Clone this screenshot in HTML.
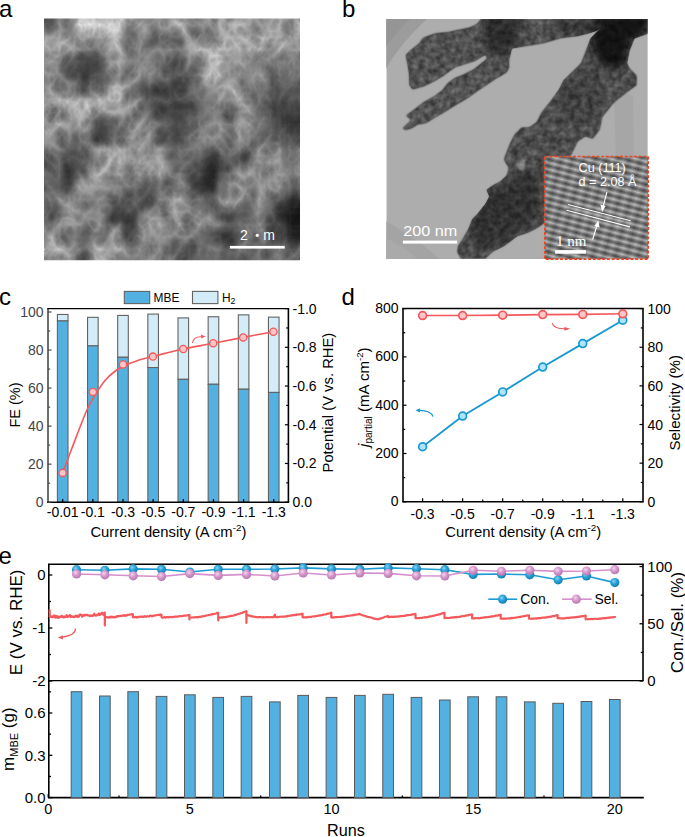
<!DOCTYPE html>
<html><head><meta charset="utf-8"><style>
html,body{margin:0;padding:0;background:#fff;width:685px;height:837px;overflow:hidden}
svg{display:block}
text{font-family:"Liberation Sans", sans-serif}
text.serif{font-family:"Liberation Serif", serif}
</style></head><body><svg width="685" height="837" viewBox="0 0 685 837" font-family='"Liberation Sans", sans-serif'><defs><filter id="semblur" x="-10%" y="-10%" width="120%" height="120%"><feGaussianBlur stdDeviation="4"/></filter><clipPath id="semclip"><rect x="44" y="18.5" width="256" height="241.8"/></clipPath></defs><defs><filter id="semtex" x="0" y="0" width="100%" height="100%" color-interpolation-filters="sRGB"><feTurbulence type="turbulence" baseFrequency="0.05 0.04" numOctaves="3" seed="11" result="n"/><feColorMatrix in="n" type="matrix" values="-1 0 0 0 1  -1 0 0 0 1  -1 0 0 0 1  0 0 0 0 1" result="ng"/><feComposite in="SourceGraphic" in2="ng" operator="arithmetic" k1="0.75" k2="0.5" k3="0" k4="0" result="o"/><feComposite in="o" in2="SourceGraphic" operator="in"/></filter></defs><g clip-path="url(#semclip)"><g filter="url(#semtex)"><g filter="url(#semblur)"><rect x="32.0" y="6.5" width="28.6" height="28.7" fill="rgb(95,95,95)"/><rect x="60.0" y="6.5" width="16.6" height="28.7" fill="rgb(140,140,140)"/><rect x="76.0" y="6.5" width="16.6" height="28.7" fill="rgb(191,191,191)"/><rect x="92.0" y="6.5" width="16.6" height="28.7" fill="rgb(179,179,179)"/><rect x="32.0" y="34.6" width="28.6" height="16.7" fill="rgb(146,146,146)"/><rect x="60.0" y="34.6" width="16.6" height="16.7" fill="rgb(151,151,151)"/><rect x="76.0" y="34.6" width="16.6" height="16.7" fill="rgb(129,129,129)"/><rect x="92.0" y="34.6" width="16.6" height="16.7" fill="rgb(118,118,118)"/><rect x="32.0" y="50.8" width="28.6" height="16.7" fill="rgb(129,129,129)"/><rect x="60.0" y="50.8" width="16.6" height="16.7" fill="rgb(112,112,112)"/><rect x="76.0" y="50.8" width="16.6" height="16.7" fill="rgb(62,62,62)"/><rect x="92.0" y="50.8" width="16.6" height="16.7" fill="rgb(79,79,79)"/><rect x="32.0" y="66.9" width="28.6" height="16.7" fill="rgb(123,123,123)"/><rect x="60.0" y="66.9" width="16.6" height="16.7" fill="rgb(90,90,90)"/><rect x="76.0" y="66.9" width="16.6" height="16.7" fill="rgb(56,56,56)"/><rect x="92.0" y="66.9" width="16.6" height="16.7" fill="rgb(73,73,73)"/><rect x="108.0" y="6.5" width="16.6" height="28.7" fill="rgb(179,179,179)"/><rect x="124.0" y="6.5" width="16.6" height="28.7" fill="rgb(129,129,129)"/><rect x="140.0" y="6.5" width="16.6" height="28.7" fill="rgb(140,140,140)"/><rect x="156.0" y="6.5" width="16.6" height="28.7" fill="rgb(118,118,118)"/><rect x="108.0" y="34.6" width="16.6" height="16.7" fill="rgb(163,163,163)"/><rect x="124.0" y="34.6" width="16.6" height="16.7" fill="rgb(135,135,135)"/><rect x="140.0" y="34.6" width="16.6" height="16.7" fill="rgb(101,101,101)"/><rect x="156.0" y="34.6" width="16.6" height="16.7" fill="rgb(107,107,107)"/><rect x="108.0" y="50.8" width="16.6" height="16.7" fill="rgb(151,151,151)"/><rect x="124.0" y="50.8" width="16.6" height="16.7" fill="rgb(107,107,107)"/><rect x="140.0" y="50.8" width="16.6" height="16.7" fill="rgb(118,118,118)"/><rect x="156.0" y="50.8" width="16.6" height="16.7" fill="rgb(129,129,129)"/><rect x="108.0" y="66.9" width="16.6" height="16.7" fill="rgb(118,118,118)"/><rect x="124.0" y="66.9" width="16.6" height="16.7" fill="rgb(135,135,135)"/><rect x="140.0" y="66.9" width="16.6" height="16.7" fill="rgb(118,118,118)"/><rect x="156.0" y="66.9" width="16.6" height="16.7" fill="rgb(95,95,95)"/><rect x="172.0" y="6.5" width="16.6" height="28.7" fill="rgb(163,163,163)"/><rect x="188.0" y="6.5" width="16.6" height="28.7" fill="rgb(118,118,118)"/><rect x="204.0" y="6.5" width="16.6" height="28.7" fill="rgb(140,140,140)"/><rect x="220.0" y="6.5" width="16.6" height="28.7" fill="rgb(157,157,157)"/><rect x="172.0" y="34.6" width="16.6" height="16.7" fill="rgb(101,101,101)"/><rect x="188.0" y="34.6" width="16.6" height="16.7" fill="rgb(163,163,163)"/><rect x="204.0" y="34.6" width="16.6" height="16.7" fill="rgb(140,140,140)"/><rect x="220.0" y="34.6" width="16.6" height="16.7" fill="rgb(163,163,163)"/><rect x="172.0" y="50.8" width="16.6" height="16.7" fill="rgb(107,107,107)"/><rect x="188.0" y="50.8" width="16.6" height="16.7" fill="rgb(129,129,129)"/><rect x="204.0" y="50.8" width="16.6" height="16.7" fill="rgb(179,179,179)"/><rect x="220.0" y="50.8" width="16.6" height="16.7" fill="rgb(129,129,129)"/><rect x="172.0" y="66.9" width="16.6" height="16.7" fill="rgb(79,79,79)"/><rect x="188.0" y="66.9" width="16.6" height="16.7" fill="rgb(90,90,90)"/><rect x="204.0" y="66.9" width="16.6" height="16.7" fill="rgb(179,179,179)"/><rect x="220.0" y="66.9" width="16.6" height="16.7" fill="rgb(123,123,123)"/><rect x="236.0" y="6.5" width="16.6" height="28.7" fill="rgb(151,151,151)"/><rect x="252.0" y="6.5" width="16.6" height="28.7" fill="rgb(129,129,129)"/><rect x="268.0" y="6.5" width="16.6" height="28.7" fill="rgb(140,140,140)"/><rect x="284.0" y="6.5" width="28.6" height="28.7" fill="rgb(151,151,151)"/><rect x="236.0" y="34.6" width="16.6" height="16.7" fill="rgb(157,157,157)"/><rect x="252.0" y="34.6" width="16.6" height="16.7" fill="rgb(163,163,163)"/><rect x="268.0" y="34.6" width="16.6" height="16.7" fill="rgb(168,168,168)"/><rect x="284.0" y="34.6" width="28.6" height="16.7" fill="rgb(140,140,140)"/><rect x="236.0" y="50.8" width="16.6" height="16.7" fill="rgb(140,140,140)"/><rect x="252.0" y="50.8" width="16.6" height="16.7" fill="rgb(118,118,118)"/><rect x="268.0" y="50.8" width="16.6" height="16.7" fill="rgb(118,118,118)"/><rect x="284.0" y="50.8" width="28.6" height="16.7" fill="rgb(112,112,112)"/><rect x="236.0" y="66.9" width="16.6" height="16.7" fill="rgb(118,118,118)"/><rect x="252.0" y="66.9" width="16.6" height="16.7" fill="rgb(129,129,129)"/><rect x="268.0" y="66.9" width="16.6" height="16.7" fill="rgb(95,95,95)"/><rect x="284.0" y="66.9" width="28.6" height="16.7" fill="rgb(101,101,101)"/><rect x="32.0" y="83.0" width="28.6" height="16.6" fill="rgb(135,135,135)"/><rect x="60.0" y="83.0" width="16.6" height="16.6" fill="rgb(129,129,129)"/><rect x="76.0" y="83.0" width="16.6" height="16.6" fill="rgb(79,79,79)"/><rect x="92.0" y="83.0" width="16.6" height="16.6" fill="rgb(118,118,118)"/><rect x="32.0" y="99.0" width="28.6" height="16.6" fill="rgb(163,163,163)"/><rect x="60.0" y="99.0" width="16.6" height="16.6" fill="rgb(168,168,168)"/><rect x="76.0" y="99.0" width="16.6" height="16.6" fill="rgb(174,174,174)"/><rect x="92.0" y="99.0" width="16.6" height="16.6" fill="rgb(179,179,179)"/><rect x="32.0" y="115.0" width="28.6" height="16.6" fill="rgb(157,157,157)"/><rect x="60.0" y="115.0" width="16.6" height="16.6" fill="rgb(140,140,140)"/><rect x="76.0" y="115.0" width="16.6" height="16.6" fill="rgb(140,140,140)"/><rect x="92.0" y="115.0" width="16.6" height="16.6" fill="rgb(56,56,56)"/><rect x="32.0" y="131.0" width="28.6" height="16.6" fill="rgb(129,129,129)"/><rect x="60.0" y="131.0" width="16.6" height="16.6" fill="rgb(107,107,107)"/><rect x="76.0" y="131.0" width="16.6" height="16.6" fill="rgb(107,107,107)"/><rect x="92.0" y="131.0" width="16.6" height="16.6" fill="rgb(73,73,73)"/><rect x="108.0" y="83.0" width="16.6" height="16.6" fill="rgb(163,163,163)"/><rect x="124.0" y="83.0" width="16.6" height="16.6" fill="rgb(118,118,118)"/><rect x="140.0" y="83.0" width="16.6" height="16.6" fill="rgb(62,62,62)"/><rect x="156.0" y="83.0" width="16.6" height="16.6" fill="rgb(73,73,73)"/><rect x="108.0" y="99.0" width="16.6" height="16.6" fill="rgb(157,157,157)"/><rect x="124.0" y="99.0" width="16.6" height="16.6" fill="rgb(140,140,140)"/><rect x="140.0" y="99.0" width="16.6" height="16.6" fill="rgb(90,90,90)"/><rect x="156.0" y="99.0" width="16.6" height="16.6" fill="rgb(73,73,73)"/><rect x="108.0" y="115.0" width="16.6" height="16.6" fill="rgb(95,95,95)"/><rect x="124.0" y="115.0" width="16.6" height="16.6" fill="rgb(140,140,140)"/><rect x="140.0" y="115.0" width="16.6" height="16.6" fill="rgb(129,129,129)"/><rect x="156.0" y="115.0" width="16.6" height="16.6" fill="rgb(84,84,84)"/><rect x="108.0" y="131.0" width="16.6" height="16.6" fill="rgb(95,95,95)"/><rect x="124.0" y="131.0" width="16.6" height="16.6" fill="rgb(135,135,135)"/><rect x="140.0" y="131.0" width="16.6" height="16.6" fill="rgb(140,140,140)"/><rect x="156.0" y="131.0" width="16.6" height="16.6" fill="rgb(79,79,79)"/><rect x="172.0" y="83.0" width="16.6" height="16.6" fill="rgb(84,84,84)"/><rect x="188.0" y="83.0" width="16.6" height="16.6" fill="rgb(95,95,95)"/><rect x="204.0" y="83.0" width="16.6" height="16.6" fill="rgb(118,118,118)"/><rect x="220.0" y="83.0" width="16.6" height="16.6" fill="rgb(163,163,163)"/><rect x="172.0" y="99.0" width="16.6" height="16.6" fill="rgb(56,56,56)"/><rect x="188.0" y="99.0" width="16.6" height="16.6" fill="rgb(84,84,84)"/><rect x="204.0" y="99.0" width="16.6" height="16.6" fill="rgb(107,107,107)"/><rect x="220.0" y="99.0" width="16.6" height="16.6" fill="rgb(140,140,140)"/><rect x="172.0" y="115.0" width="16.6" height="16.6" fill="rgb(67,67,67)"/><rect x="188.0" y="115.0" width="16.6" height="16.6" fill="rgb(90,90,90)"/><rect x="204.0" y="115.0" width="16.6" height="16.6" fill="rgb(123,123,123)"/><rect x="220.0" y="115.0" width="16.6" height="16.6" fill="rgb(129,129,129)"/><rect x="172.0" y="131.0" width="16.6" height="16.6" fill="rgb(62,62,62)"/><rect x="188.0" y="131.0" width="16.6" height="16.6" fill="rgb(129,129,129)"/><rect x="204.0" y="131.0" width="16.6" height="16.6" fill="rgb(118,118,118)"/><rect x="220.0" y="131.0" width="16.6" height="16.6" fill="rgb(123,123,123)"/><rect x="236.0" y="83.0" width="16.6" height="16.6" fill="rgb(140,140,140)"/><rect x="252.0" y="83.0" width="16.6" height="16.6" fill="rgb(107,107,107)"/><rect x="268.0" y="83.0" width="16.6" height="16.6" fill="rgb(79,79,79)"/><rect x="284.0" y="83.0" width="28.6" height="16.6" fill="rgb(84,84,84)"/><rect x="236.0" y="99.0" width="16.6" height="16.6" fill="rgb(146,146,146)"/><rect x="252.0" y="99.0" width="16.6" height="16.6" fill="rgb(90,90,90)"/><rect x="268.0" y="99.0" width="16.6" height="16.6" fill="rgb(62,62,62)"/><rect x="284.0" y="99.0" width="28.6" height="16.6" fill="rgb(62,62,62)"/><rect x="236.0" y="115.0" width="16.6" height="16.6" fill="rgb(135,135,135)"/><rect x="252.0" y="115.0" width="16.6" height="16.6" fill="rgb(107,107,107)"/><rect x="268.0" y="115.0" width="16.6" height="16.6" fill="rgb(67,67,67)"/><rect x="284.0" y="115.0" width="28.6" height="16.6" fill="rgb(45,45,45)"/><rect x="236.0" y="131.0" width="16.6" height="16.6" fill="rgb(140,140,140)"/><rect x="252.0" y="131.0" width="16.6" height="16.6" fill="rgb(107,107,107)"/><rect x="268.0" y="131.0" width="16.6" height="16.6" fill="rgb(84,84,84)"/><rect x="284.0" y="131.0" width="28.6" height="16.6" fill="rgb(73,73,73)"/><rect x="32.0" y="147.0" width="28.6" height="16.6" fill="rgb(118,118,118)"/><rect x="60.0" y="147.0" width="16.6" height="16.6" fill="rgb(73,73,73)"/><rect x="76.0" y="147.0" width="16.6" height="16.6" fill="rgb(79,79,79)"/><rect x="92.0" y="147.0" width="16.6" height="16.6" fill="rgb(151,151,151)"/><rect x="32.0" y="163.0" width="28.6" height="16.6" fill="rgb(101,101,101)"/><rect x="60.0" y="163.0" width="16.6" height="16.6" fill="rgb(56,56,56)"/><rect x="76.0" y="163.0" width="16.6" height="16.6" fill="rgb(84,84,84)"/><rect x="92.0" y="163.0" width="16.6" height="16.6" fill="rgb(157,157,157)"/><rect x="32.0" y="179.0" width="28.6" height="16.6" fill="rgb(90,90,90)"/><rect x="60.0" y="179.0" width="16.6" height="16.6" fill="rgb(73,73,73)"/><rect x="76.0" y="179.0" width="16.6" height="16.6" fill="rgb(146,146,146)"/><rect x="92.0" y="179.0" width="16.6" height="16.6" fill="rgb(129,129,129)"/><rect x="32.0" y="195.0" width="28.6" height="16.6" fill="rgb(118,118,118)"/><rect x="60.0" y="195.0" width="16.6" height="16.6" fill="rgb(135,135,135)"/><rect x="76.0" y="195.0" width="16.6" height="16.6" fill="rgb(107,107,107)"/><rect x="92.0" y="195.0" width="16.6" height="16.6" fill="rgb(118,118,118)"/><rect x="108.0" y="147.0" width="16.6" height="16.6" fill="rgb(163,163,163)"/><rect x="124.0" y="147.0" width="16.6" height="16.6" fill="rgb(129,129,129)"/><rect x="140.0" y="147.0" width="16.6" height="16.6" fill="rgb(146,146,146)"/><rect x="156.0" y="147.0" width="16.6" height="16.6" fill="rgb(140,140,140)"/><rect x="108.0" y="163.0" width="16.6" height="16.6" fill="rgb(140,140,140)"/><rect x="124.0" y="163.0" width="16.6" height="16.6" fill="rgb(129,129,129)"/><rect x="140.0" y="163.0" width="16.6" height="16.6" fill="rgb(135,135,135)"/><rect x="156.0" y="163.0" width="16.6" height="16.6" fill="rgb(146,146,146)"/><rect x="108.0" y="179.0" width="16.6" height="16.6" fill="rgb(123,123,123)"/><rect x="124.0" y="179.0" width="16.6" height="16.6" fill="rgb(101,101,101)"/><rect x="140.0" y="179.0" width="16.6" height="16.6" fill="rgb(79,79,79)"/><rect x="156.0" y="179.0" width="16.6" height="16.6" fill="rgb(107,107,107)"/><rect x="108.0" y="195.0" width="16.6" height="16.6" fill="rgb(73,73,73)"/><rect x="124.0" y="195.0" width="16.6" height="16.6" fill="rgb(90,90,90)"/><rect x="140.0" y="195.0" width="16.6" height="16.6" fill="rgb(67,67,67)"/><rect x="156.0" y="195.0" width="16.6" height="16.6" fill="rgb(118,118,118)"/><rect x="172.0" y="147.0" width="16.6" height="16.6" fill="rgb(101,101,101)"/><rect x="188.0" y="147.0" width="16.6" height="16.6" fill="rgb(95,95,95)"/><rect x="204.0" y="147.0" width="16.6" height="16.6" fill="rgb(56,56,56)"/><rect x="220.0" y="147.0" width="16.6" height="16.6" fill="rgb(107,107,107)"/><rect x="172.0" y="163.0" width="16.6" height="16.6" fill="rgb(107,107,107)"/><rect x="188.0" y="163.0" width="16.6" height="16.6" fill="rgb(73,73,73)"/><rect x="204.0" y="163.0" width="16.6" height="16.6" fill="rgb(28,28,28)"/><rect x="220.0" y="163.0" width="16.6" height="16.6" fill="rgb(84,84,84)"/><rect x="172.0" y="179.0" width="16.6" height="16.6" fill="rgb(118,118,118)"/><rect x="188.0" y="179.0" width="16.6" height="16.6" fill="rgb(56,56,56)"/><rect x="204.0" y="179.0" width="16.6" height="16.6" fill="rgb(39,39,39)"/><rect x="220.0" y="179.0" width="16.6" height="16.6" fill="rgb(123,123,123)"/><rect x="172.0" y="195.0" width="16.6" height="16.6" fill="rgb(151,151,151)"/><rect x="188.0" y="195.0" width="16.6" height="16.6" fill="rgb(107,107,107)"/><rect x="204.0" y="195.0" width="16.6" height="16.6" fill="rgb(101,101,101)"/><rect x="220.0" y="195.0" width="16.6" height="16.6" fill="rgb(140,140,140)"/><rect x="236.0" y="147.0" width="16.6" height="16.6" fill="rgb(79,79,79)"/><rect x="252.0" y="147.0" width="16.6" height="16.6" fill="rgb(129,129,129)"/><rect x="268.0" y="147.0" width="16.6" height="16.6" fill="rgb(135,135,135)"/><rect x="284.0" y="147.0" width="28.6" height="16.6" fill="rgb(118,118,118)"/><rect x="236.0" y="163.0" width="16.6" height="16.6" fill="rgb(140,140,140)"/><rect x="252.0" y="163.0" width="16.6" height="16.6" fill="rgb(118,118,118)"/><rect x="268.0" y="163.0" width="16.6" height="16.6" fill="rgb(129,129,129)"/><rect x="284.0" y="163.0" width="28.6" height="16.6" fill="rgb(123,123,123)"/><rect x="236.0" y="179.0" width="16.6" height="16.6" fill="rgb(129,129,129)"/><rect x="252.0" y="179.0" width="16.6" height="16.6" fill="rgb(146,146,146)"/><rect x="268.0" y="179.0" width="16.6" height="16.6" fill="rgb(129,129,129)"/><rect x="284.0" y="179.0" width="28.6" height="16.6" fill="rgb(90,90,90)"/><rect x="236.0" y="195.0" width="16.6" height="16.6" fill="rgb(129,129,129)"/><rect x="252.0" y="195.0" width="16.6" height="16.6" fill="rgb(129,129,129)"/><rect x="268.0" y="195.0" width="16.6" height="16.6" fill="rgb(73,73,73)"/><rect x="284.0" y="195.0" width="28.6" height="16.6" fill="rgb(34,34,34)"/><rect x="32.0" y="211.0" width="28.6" height="17.0" fill="rgb(101,101,101)"/><rect x="60.0" y="211.0" width="16.6" height="17.0" fill="rgb(140,140,140)"/><rect x="76.0" y="211.0" width="16.6" height="17.0" fill="rgb(129,129,129)"/><rect x="92.0" y="211.0" width="16.6" height="17.0" fill="rgb(129,129,129)"/><rect x="32.0" y="227.4" width="28.6" height="17.0" fill="rgb(151,151,151)"/><rect x="60.0" y="227.4" width="16.6" height="17.0" fill="rgb(123,123,123)"/><rect x="76.0" y="227.4" width="16.6" height="17.0" fill="rgb(79,79,79)"/><rect x="92.0" y="227.4" width="16.6" height="17.0" fill="rgb(118,118,118)"/><rect x="32.0" y="243.9" width="28.6" height="29.0" fill="rgb(174,174,174)"/><rect x="60.0" y="243.9" width="16.6" height="29.0" fill="rgb(140,140,140)"/><rect x="76.0" y="243.9" width="16.6" height="29.0" fill="rgb(95,95,95)"/><rect x="92.0" y="243.9" width="16.6" height="29.0" fill="rgb(163,163,163)"/><rect x="108.0" y="211.0" width="16.6" height="17.0" fill="rgb(62,62,62)"/><rect x="124.0" y="211.0" width="16.6" height="17.0" fill="rgb(56,56,56)"/><rect x="140.0" y="211.0" width="16.6" height="17.0" fill="rgb(135,135,135)"/><rect x="156.0" y="211.0" width="16.6" height="17.0" fill="rgb(151,151,151)"/><rect x="108.0" y="227.4" width="16.6" height="17.0" fill="rgb(151,151,151)"/><rect x="124.0" y="227.4" width="16.6" height="17.0" fill="rgb(101,101,101)"/><rect x="140.0" y="227.4" width="16.6" height="17.0" fill="rgb(129,129,129)"/><rect x="156.0" y="227.4" width="16.6" height="17.0" fill="rgb(123,123,123)"/><rect x="108.0" y="243.9" width="16.6" height="29.0" fill="rgb(151,151,151)"/><rect x="124.0" y="243.9" width="16.6" height="29.0" fill="rgb(112,112,112)"/><rect x="140.0" y="243.9" width="16.6" height="29.0" fill="rgb(123,123,123)"/><rect x="156.0" y="243.9" width="16.6" height="29.0" fill="rgb(118,118,118)"/><rect x="172.0" y="211.0" width="16.6" height="17.0" fill="rgb(140,140,140)"/><rect x="188.0" y="211.0" width="16.6" height="17.0" fill="rgb(135,135,135)"/><rect x="204.0" y="211.0" width="16.6" height="17.0" fill="rgb(129,129,129)"/><rect x="220.0" y="211.0" width="16.6" height="17.0" fill="rgb(84,84,84)"/><rect x="172.0" y="227.4" width="16.6" height="17.0" fill="rgb(118,118,118)"/><rect x="188.0" y="227.4" width="16.6" height="17.0" fill="rgb(112,112,112)"/><rect x="204.0" y="227.4" width="16.6" height="17.0" fill="rgb(107,107,107)"/><rect x="220.0" y="227.4" width="16.6" height="17.0" fill="rgb(62,62,62)"/><rect x="172.0" y="243.9" width="16.6" height="29.0" fill="rgb(84,84,84)"/><rect x="188.0" y="243.9" width="16.6" height="29.0" fill="rgb(90,90,90)"/><rect x="204.0" y="243.9" width="16.6" height="29.0" fill="rgb(107,107,107)"/><rect x="220.0" y="243.9" width="16.6" height="29.0" fill="rgb(84,84,84)"/><rect x="236.0" y="211.0" width="16.6" height="17.0" fill="rgb(95,95,95)"/><rect x="252.0" y="211.0" width="16.6" height="17.0" fill="rgb(118,118,118)"/><rect x="268.0" y="211.0" width="16.6" height="17.0" fill="rgb(62,62,62)"/><rect x="284.0" y="211.0" width="28.6" height="17.0" fill="rgb(23,23,23)"/><rect x="236.0" y="227.4" width="16.6" height="17.0" fill="rgb(107,107,107)"/><rect x="252.0" y="227.4" width="16.6" height="17.0" fill="rgb(118,118,118)"/><rect x="268.0" y="227.4" width="16.6" height="17.0" fill="rgb(79,79,79)"/><rect x="284.0" y="227.4" width="28.6" height="17.0" fill="rgb(34,34,34)"/><rect x="236.0" y="243.9" width="16.6" height="29.0" fill="rgb(107,107,107)"/><rect x="252.0" y="243.9" width="16.6" height="29.0" fill="rgb(101,101,101)"/><rect x="268.0" y="243.9" width="16.6" height="29.0" fill="rgb(107,107,107)"/><rect x="284.0" y="243.9" width="28.6" height="29.0" fill="rgb(95,95,95)"/></g></g></g><rect x="229.9" y="245.9" width="54.8" height="2.7" fill="#fff"/><text x="240" y="240.2" font-size="14" fill="#fff">2</text><circle cx="257.3" cy="235.3" r="1.6" fill="#fff"/><text x="263.2" y="240.2" font-size="14" fill="#fff">m</text><defs><clipPath id="temclip"><rect x="386.3" y="19" width="261.49999999999994" height="240"/></clipPath><filter id="temblur" x="-5%" y="-5%" width="110%" height="110%"><feGaussianBlur stdDeviation="1.2"/></filter><filter id="temblur3" x="-20%" y="-20%" width="140%" height="140%"><feGaussianBlur stdDeviation="4"/></filter></defs><defs><filter id="rodtex" x="0" y="0" width="100%" height="100%" color-interpolation-filters="sRGB"><feTurbulence type="fractalNoise" baseFrequency="0.16" numOctaves="2" seed="5" result="n"/><feColorMatrix in="n" type="matrix" values="1 0 0 0 0  1 0 0 0 0  1 0 0 0 0  0 0 0 0 1" result="ng"/><feComposite in="SourceGraphic" in2="ng" operator="arithmetic" k1="1.0" k2="0.38" k3="0" k4="0" result="o"/><feComposite in="o" in2="SourceGraphic" operator="in"/></filter></defs><g clip-path="url(#temclip)"><rect x="386.3" y="19" width="261.49999999999994" height="240" fill="#adadad"/><path d="M380,19 L427,19 C412,33 398,48 387,67 L380,80 Z" fill="#9c9c9c"/><path d="M380,19 L410,19 C402,27 394,36 387,45 L380,52 Z" fill="#959595"/><path d="M380,218 L386,221 C405,232 425,246 440,259 L380,259 Z" fill="#a4a4a4"/><path d="M380,235 L386,238 C400,245 410,251 417,259 L380,259 Z" fill="#aaaaaa"/><path d="M614,95 C620,92 628,92 633,96 L634,160 L616,160 Z" fill="#a6a6a6"/><g filter="url(#rodtex)"><g filter="url(#temblur)"><path d="M405.3,55.0 L410.5,49.8 L419.3,42.8 L422.8,37.5 L435.0,33.1 L449.1,31.4 L457.8,29.6 L470.1,27.0 L477.1,23.5 L480.6,19.0 L500.0,19.0 L505.0,40.0 L495.0,52.0 L485.8,55.0 L475.3,61.2 L464.8,64.7 L456.1,67.3 L450.8,70.8 L443.8,76.1 L435.0,81.3 L424.5,86.6 L412.3,90.1 L408.8,84.8 L408.8,74.3 L407.0,63.8 Z" fill="#5c5c5c"/><path d="M405.3,115.5 L414.0,109.3 L422.8,102.3 L435.0,95.3 L442.0,90.1 L447.3,83.1 L454.3,77.8 L463.1,74.3 L473.6,69.1 L482.3,62.0 L487.6,57.7 L494.6,55.0 L505.1,62.0 L509.5,67.3 L506.9,72.6 L498.1,77.8 L487.6,84.8 L477.1,91.8 L470.1,97.1 L461.3,102.3 L452.6,107.6 L443.8,112.9 L435.0,118.1 L426.3,123.4 L417.5,125.1 L412.3,128.6 L405.3,130.4 L401.8,128.6 L407.0,123.4 L410.5,119.9 Z" fill="#5e5e5e"/><path d="M477.1,23.5 L480.6,19.0 L600.2,19.0 L600.2,28.8 L595.3,31.3 L587.9,33.7 L578.1,36.2 L560.9,38.6 L543.8,43.5 L529.1,46.0 L511.9,48.4 L509.4,60.0 L509.5,67.3 L506.9,72.6 L498.1,77.8 L490.0,70.0 L485.8,55.0 Z" fill="#5a5a5a"/><path d="M600.2,19.0 L648.0,19.0 L648.0,33.7 L634.5,38.6 L629.6,50.9 L627.2,63.2 L629.6,68.1 L637.0,75.4 L637.0,85.2 L627.2,92.6 L617.4,99.9 L612.5,104.8 L602.6,117.1 L600.2,129.4 L592.8,139.2 L585.5,136.7 L578.1,141.6 L573.2,151.5 L570.8,156.5 L545.0,156.5 L545.0,223.1 L536.1,228.9 L528.5,232.7 L517.0,236.5 L504.6,246.1 L493.1,251.8 L485.4,259.0 L460.6,259.0 L456.8,251.8 L457.7,246.1 L462.5,238.4 L468.2,228.9 L472.1,219.3 L477.8,213.6 L485.4,204.0 L489.3,196.4 L486.4,189.7 L493.1,184.9 L500.7,181.1 L506.5,175.3 L508.4,167.7 L503.6,160.0 L504.5,156.4 L509.4,144.1 L514.3,134.3 L521.7,126.9 L529.1,126.9 L536.4,122.0 L541.3,112.2 L551.1,99.9 L558.5,90.1 L563.4,80.3 L573.2,70.5 L580.6,63.2 L585.5,50.9 L590.4,38.6 L600.2,28.8 Z" fill="#585858"/><path d="M518,162 C522,158 528,160 528,166 C527,171 520,172 518,168 Z" fill="#8a8a8a"/></g><defs><clipPath id="rodsclip"><path d="M405.3,55.0 L410.5,49.8 L419.3,42.8 L422.8,37.5 L435.0,33.1 L449.1,31.4 L457.8,29.6 L470.1,27.0 L477.1,23.5 L480.6,19.0 L500.0,19.0 L505.0,40.0 L495.0,52.0 L485.8,55.0 L475.3,61.2 L464.8,64.7 L456.1,67.3 L450.8,70.8 L443.8,76.1 L435.0,81.3 L424.5,86.6 L412.3,90.1 L408.8,84.8 L408.8,74.3 L407.0,63.8 Z"/><path d="M405.3,115.5 L414.0,109.3 L422.8,102.3 L435.0,95.3 L442.0,90.1 L447.3,83.1 L454.3,77.8 L463.1,74.3 L473.6,69.1 L482.3,62.0 L487.6,57.7 L494.6,55.0 L505.1,62.0 L509.5,67.3 L506.9,72.6 L498.1,77.8 L487.6,84.8 L477.1,91.8 L470.1,97.1 L461.3,102.3 L452.6,107.6 L443.8,112.9 L435.0,118.1 L426.3,123.4 L417.5,125.1 L412.3,128.6 L405.3,130.4 L401.8,128.6 L407.0,123.4 L410.5,119.9 Z"/><path d="M477.1,23.5 L480.6,19.0 L600.2,19.0 L600.2,28.8 L595.3,31.3 L587.9,33.7 L578.1,36.2 L560.9,38.6 L543.8,43.5 L529.1,46.0 L511.9,48.4 L509.4,60.0 L509.5,67.3 L506.9,72.6 L498.1,77.8 L490.0,70.0 L485.8,55.0 Z"/><path d="M600.2,19.0 L648.0,19.0 L648.0,33.7 L634.5,38.6 L629.6,50.9 L627.2,63.2 L629.6,68.1 L637.0,75.4 L637.0,85.2 L627.2,92.6 L617.4,99.9 L612.5,104.8 L602.6,117.1 L600.2,129.4 L592.8,139.2 L585.5,136.7 L578.1,141.6 L573.2,151.5 L570.8,156.5 L545.0,156.5 L545.0,223.1 L536.1,228.9 L528.5,232.7 L517.0,236.5 L504.6,246.1 L493.1,251.8 L485.4,259.0 L460.6,259.0 L456.8,251.8 L457.7,246.1 L462.5,238.4 L468.2,228.9 L472.1,219.3 L477.8,213.6 L485.4,204.0 L489.3,196.4 L486.4,189.7 L493.1,184.9 L500.7,181.1 L506.5,175.3 L508.4,167.7 L503.6,160.0 L504.5,156.4 L509.4,144.1 L514.3,134.3 L521.7,126.9 L529.1,126.9 L536.4,122.0 L541.3,112.2 L551.1,99.9 L558.5,90.1 L563.4,80.3 L573.2,70.5 L580.6,63.2 L585.5,50.9 L590.4,38.6 L600.2,28.8 Z"/></clipPath></defs><g clip-path="url(#rodsclip)"><g filter="url(#temblur3)"><path d="M590,15 L652,15 L645,34 L630,42 L626,64 L614,70 L598,62 L590,42 Z" fill="#141414"/><path d="M556,19 L600,19 L598,30 L570,34 L556,30 Z" fill="#3a3a3a"/><path d="M485,15 L520,15 L518,44 L505,55 L490,56 L485,40 Z" fill="#303030"/><path d="M478,195 L500,185 L517,175 L530,170 L540,180 L540,215 L520,232 L500,245 L480,250 L470,238 Z" fill="#383838"/><path d="M565,80 L590,72 L605,90 L598,115 L580,128 L560,120 L556,100 Z" fill="#4c4c4c"/></g></g></g></g><defs><linearGradient id="lat" x1="0" y1="0" x2="0" y2="6.4" gradientUnits="userSpaceOnUse" spreadMethod="repeat"><stop offset="0" stop-color="#505050"/><stop offset="0.25" stop-color="#7c7c7c"/><stop offset="0.5" stop-color="#b4b4b4"/><stop offset="0.75" stop-color="#7c7c7c"/><stop offset="1" stop-color="#505050"/></linearGradient><linearGradient id="lat2" x1="0" y1="0" x2="11" y2="0" gradientUnits="userSpaceOnUse" spreadMethod="repeat"><stop offset="0" stop-color="#000"/><stop offset="0.5" stop-color="#fff"/><stop offset="1" stop-color="#000"/></linearGradient><clipPath id="insclip"><rect x="544.8" y="156.5" width="103.40000000000009" height="102.69999999999999"/></clipPath></defs><defs><filter id="latblur" x="-5%" y="-5%" width="110%" height="110%"><feGaussianBlur stdDeviation="0.7"/></filter></defs><g clip-path="url(#insclip)"><g filter="url(#latblur)"><rect x="484.79999999999995" y="96.5" width="223.4000000000001" height="222.7" fill="url(#lat)" transform="rotate(14.5 596 208)"/><rect x="484.79999999999995" y="96.5" width="223.4000000000001" height="222.7" fill="url(#lat2)" opacity="0.14" transform="rotate(14.5 596 208)"/></g></g><rect x="544.8" y="156.5" width="103.40000000000009" height="102.69999999999999" fill="none" stroke="#ef4420" stroke-width="1.7" stroke-dasharray="2.9 1.8"/><text x="578.6" y="171.5" font-size="12.6" fill="#fff">Cu (111)</text><text x="578.6" y="185.6" font-size="12.6" fill="#fff">d = 2.08  Å</text><line x1="568" y1="204.5" x2="630.6" y2="220.7" stroke="#fff" stroke-width="1.1"/><line x1="566.6" y1="210.2" x2="630" y2="226.9" stroke="#fff" stroke-width="1.1"/><line x1="606.9" y1="192.2" x2="603.3" y2="206" stroke="#fff" stroke-width="1.1"/><path d="M602.1,212 L600.4,204.6 L605.6,205.9 Z" fill="#fff"/><line x1="592.6" y1="239.6" x2="596.8" y2="226" stroke="#fff" stroke-width="1.1"/><path d="M598.3,220.2 L599.6,227.4 L594.4,226.1 Z" fill="#fff"/><text x="556.0" y="245.7" font-size="15" fill="#fff" class="serif">1 nm</text><rect x="555.1" y="250.1" width="30.8" height="3.6" fill="#fff"/><rect x="402.9" y="240.6" width="54.2" height="3" fill="#fff"/><text x="403.2" y="235.7" font-size="14.4" fill="#fff" textLength="54" lengthAdjust="spacingAndGlyphs">200 nm</text><text x="-1.00" y="16.50" font-size="24" text-anchor="start" fill="#000" >a</text><text x="342.00" y="16.50" font-size="24" text-anchor="start" fill="#000" >b</text><text x="-1.00" y="305.00" font-size="24" text-anchor="start" fill="#000" >c</text><text x="341.50" y="305.00" font-size="24" text-anchor="start" fill="#000" >d</text><text x="-1.50" y="564.00" font-size="24" text-anchor="start" fill="#000" >e</text><rect x="57.40" y="314.47" width="10.60" height="6.47" fill="#d3ecf7" stroke="#636363" stroke-width="1.1" /><rect x="57.40" y="320.94" width="10.60" height="181.26" fill="#52b1e1" stroke="#636363" stroke-width="1.1" /><rect x="87.55" y="317.33" width="10.60" height="28.53" fill="#d3ecf7" stroke="#636363" stroke-width="1.1" /><rect x="87.55" y="345.86" width="10.60" height="156.34" fill="#52b1e1" stroke="#636363" stroke-width="1.1" /><rect x="117.70" y="315.42" width="10.60" height="41.84" fill="#d3ecf7" stroke="#636363" stroke-width="1.1" /><rect x="117.70" y="357.27" width="10.60" height="144.93" fill="#52b1e1" stroke="#636363" stroke-width="1.1" /><rect x="147.85" y="314.09" width="10.60" height="53.45" fill="#d3ecf7" stroke="#636363" stroke-width="1.1" /><rect x="147.85" y="367.54" width="10.60" height="134.66" fill="#52b1e1" stroke="#636363" stroke-width="1.1" /><rect x="178.00" y="317.90" width="10.60" height="61.43" fill="#d3ecf7" stroke="#636363" stroke-width="1.1" /><rect x="178.00" y="379.33" width="10.60" height="122.87" fill="#52b1e1" stroke="#636363" stroke-width="1.1" /><rect x="208.15" y="316.75" width="10.60" height="67.52" fill="#d3ecf7" stroke="#636363" stroke-width="1.1" /><rect x="208.15" y="384.28" width="10.60" height="117.92" fill="#52b1e1" stroke="#636363" stroke-width="1.1" /><rect x="238.30" y="314.85" width="10.60" height="74.37" fill="#d3ecf7" stroke="#636363" stroke-width="1.1" /><rect x="238.30" y="389.22" width="10.60" height="112.98" fill="#52b1e1" stroke="#636363" stroke-width="1.1" /><rect x="268.45" y="317.14" width="10.60" height="75.32" fill="#d3ecf7" stroke="#636363" stroke-width="1.1" /><rect x="268.45" y="392.45" width="10.60" height="109.75" fill="#52b1e1" stroke="#636363" stroke-width="1.1" /><line x1="48.00" y1="308.60" x2="48.00" y2="502.20" stroke="#4a4a4a" stroke-width="1.6" /><line x1="47.20" y1="308.60" x2="289.20" y2="308.60" stroke="#000" stroke-width="1.3" /><line x1="288.40" y1="308.60" x2="288.40" y2="502.20" stroke="#000" stroke-width="1.6" /><line x1="47.20" y1="502.20" x2="289.20" y2="502.20" stroke="#000" stroke-width="1.5" /><line x1="48.00" y1="502.20" x2="51.50" y2="502.20" stroke="#4a4a4a" stroke-width="1.2" /><text x="43.50" y="507.20" font-size="14" text-anchor="end" fill="#444" >0</text><line x1="48.00" y1="483.18" x2="50.20" y2="483.18" stroke="#4a4a4a" stroke-width="1.2" /><line x1="48.00" y1="464.16" x2="51.50" y2="464.16" stroke="#4a4a4a" stroke-width="1.2" /><text x="43.50" y="469.16" font-size="14" text-anchor="end" fill="#444" >20</text><line x1="48.00" y1="445.14" x2="50.20" y2="445.14" stroke="#4a4a4a" stroke-width="1.2" /><line x1="48.00" y1="426.12" x2="51.50" y2="426.12" stroke="#4a4a4a" stroke-width="1.2" /><text x="43.50" y="431.12" font-size="14" text-anchor="end" fill="#444" >40</text><line x1="48.00" y1="407.10" x2="50.20" y2="407.10" stroke="#4a4a4a" stroke-width="1.2" /><line x1="48.00" y1="388.08" x2="51.50" y2="388.08" stroke="#4a4a4a" stroke-width="1.2" /><text x="43.50" y="393.08" font-size="14" text-anchor="end" fill="#444" >60</text><line x1="48.00" y1="369.06" x2="50.20" y2="369.06" stroke="#4a4a4a" stroke-width="1.2" /><line x1="48.00" y1="350.04" x2="51.50" y2="350.04" stroke="#4a4a4a" stroke-width="1.2" /><text x="43.50" y="355.04" font-size="14" text-anchor="end" fill="#444" >80</text><line x1="48.00" y1="331.02" x2="50.20" y2="331.02" stroke="#4a4a4a" stroke-width="1.2" /><line x1="48.00" y1="312.00" x2="51.50" y2="312.00" stroke="#4a4a4a" stroke-width="1.2" /><text x="43.50" y="317.00" font-size="14" text-anchor="end" fill="#444" >100</text><line x1="284.90" y1="502.20" x2="288.40" y2="502.20" stroke="#000" stroke-width="1.2" /><text x="292.50" y="507.20" font-size="14" text-anchor="start" fill="#000" >0.0</text><line x1="286.20" y1="482.84" x2="288.40" y2="482.84" stroke="#000" stroke-width="1.2" /><line x1="284.90" y1="463.48" x2="288.40" y2="463.48" stroke="#000" stroke-width="1.2" /><text x="292.50" y="468.48" font-size="14" text-anchor="start" fill="#000" >-0.2</text><line x1="286.20" y1="444.12" x2="288.40" y2="444.12" stroke="#000" stroke-width="1.2" /><line x1="284.90" y1="424.76" x2="288.40" y2="424.76" stroke="#000" stroke-width="1.2" /><text x="292.50" y="429.76" font-size="14" text-anchor="start" fill="#000" >-0.4</text><line x1="286.20" y1="405.40" x2="288.40" y2="405.40" stroke="#000" stroke-width="1.2" /><line x1="284.90" y1="386.04" x2="288.40" y2="386.04" stroke="#000" stroke-width="1.2" /><text x="292.50" y="391.04" font-size="14" text-anchor="start" fill="#000" >-0.6</text><line x1="286.20" y1="366.68" x2="288.40" y2="366.68" stroke="#000" stroke-width="1.2" /><line x1="284.90" y1="347.32" x2="288.40" y2="347.32" stroke="#000" stroke-width="1.2" /><text x="292.50" y="352.32" font-size="14" text-anchor="start" fill="#000" >-0.8</text><line x1="286.20" y1="327.96" x2="288.40" y2="327.96" stroke="#000" stroke-width="1.2" /><line x1="284.90" y1="308.60" x2="288.40" y2="308.60" stroke="#000" stroke-width="1.2" /><text x="292.50" y="313.60" font-size="14" text-anchor="start" fill="#000" >-1.0</text><line x1="62.70" y1="499.00" x2="62.70" y2="502.20" stroke="#000" stroke-width="1.2" /><line x1="92.85" y1="499.00" x2="92.85" y2="502.20" stroke="#000" stroke-width="1.2" /><line x1="123.00" y1="499.00" x2="123.00" y2="502.20" stroke="#000" stroke-width="1.2" /><line x1="153.15" y1="499.00" x2="153.15" y2="502.20" stroke="#000" stroke-width="1.2" /><line x1="183.30" y1="499.00" x2="183.30" y2="502.20" stroke="#000" stroke-width="1.2" /><line x1="213.45" y1="499.00" x2="213.45" y2="502.20" stroke="#000" stroke-width="1.2" /><line x1="243.60" y1="499.00" x2="243.60" y2="502.20" stroke="#000" stroke-width="1.2" /><line x1="273.75" y1="499.00" x2="273.75" y2="502.20" stroke="#000" stroke-width="1.2" /><text x="62.70" y="517.40" font-size="14" text-anchor="middle" fill="#000" >-0.01</text><text x="92.85" y="517.40" font-size="14" text-anchor="middle" fill="#000" >-0.1</text><text x="123.00" y="517.40" font-size="14" text-anchor="middle" fill="#000" >-0.3</text><text x="153.15" y="517.40" font-size="14" text-anchor="middle" fill="#000" >-0.5</text><text x="183.30" y="517.40" font-size="14" text-anchor="middle" fill="#000" >-0.7</text><text x="213.45" y="517.40" font-size="14" text-anchor="middle" fill="#000" >-0.9</text><text x="243.60" y="517.40" font-size="14" text-anchor="middle" fill="#000" >-1.1</text><text x="273.75" y="517.40" font-size="14" text-anchor="middle" fill="#000" >-1.3</text><text x="168.40" y="537.00" font-size="14.8" text-anchor="middle" fill="#000" >Current density (A cm<tspan font-size="9.8" dy="-5.8">-2</tspan><tspan dy="5.8">)</tspan></text><text transform="translate(19.5,405) rotate(-90)" font-size="14.5" text-anchor="middle" fill="#000">FE (%)</text><text transform="translate(332.5,402.6) rotate(-90)" font-size="14.8" text-anchor="middle" fill="#000">Potential (V vs. RHE)</text><rect x="124.30" y="291.40" width="25.40" height="12.20" fill="#52b1e1" stroke="#636363" stroke-width="1.1" /><text x="153.60" y="301.60" font-size="11.9" text-anchor="start" fill="#000" >MBE</text><rect x="192.50" y="291.40" width="25.40" height="12.20" fill="#d3ecf7" stroke="#636363" stroke-width="1.1" /><text x="222.00" y="301.60" font-size="11.9" text-anchor="start" fill="#000" >H<tspan font-size="8.8" dy="2.8">2</tspan></text><path d="M62.50,473.00 C64.03,468.97 67.65,459.25 71.70,448.80 C75.75,438.35 82.75,419.50 86.80,410.30 C90.85,401.10 92.93,398.62 96.00,393.60 C99.07,388.58 101.98,383.97 105.20,380.20 C108.42,376.43 112.23,373.37 115.30,371.00 C118.37,368.63 119.83,367.77 123.60,366.00 C127.37,364.23 133.02,361.97 137.90,360.40 C142.78,358.83 148.38,357.77 152.90,356.60 C157.42,355.43 159.95,354.67 165.00,353.40 C170.05,352.13 175.17,350.68 183.20,349.00 C191.23,347.32 203.20,345.23 213.20,343.30 C223.20,341.37 233.17,339.33 243.20,337.40 C253.23,335.47 268.37,332.65 273.40,331.70" fill="none" stroke="#f5585a" stroke-width="1.6"/><circle cx="62.60" cy="472.90" r="3.6" fill="#fbc6c9" stroke="#f5585a" stroke-width="1.3" /><circle cx="92.90" cy="391.90" r="3.6" fill="#fbc6c9" stroke="#f5585a" stroke-width="1.3" /><circle cx="123.00" cy="364.50" r="3.6" fill="#fbc6c9" stroke="#f5585a" stroke-width="1.3" /><circle cx="152.90" cy="356.60" r="3.6" fill="#fbc6c9" stroke="#f5585a" stroke-width="1.3" /><circle cx="183.20" cy="349.00" r="3.6" fill="#fbc6c9" stroke="#f5585a" stroke-width="1.3" /><circle cx="213.20" cy="343.30" r="3.6" fill="#fbc6c9" stroke="#f5585a" stroke-width="1.3" /><circle cx="243.20" cy="337.40" r="3.6" fill="#fbc6c9" stroke="#f5585a" stroke-width="1.3" /><circle cx="273.40" cy="331.70" r="3.6" fill="#fbc6c9" stroke="#f5585a" stroke-width="1.3" /><path d="M192.5,343 C193,338.5 197,336.5 202,336.8" fill="none" stroke="#f5585a" stroke-width="1.1"/><path d="M205.5,336.6 L200.8,334.6 L201.5,338.6 Z" fill="#f5585a"/><line x1="403.00" y1="308.60" x2="403.00" y2="501.80" stroke="#000" stroke-width="1.6" /><line x1="402.20" y1="308.60" x2="643.80" y2="308.60" stroke="#000" stroke-width="1.5" /><line x1="643.00" y1="308.60" x2="643.00" y2="501.80" stroke="#000" stroke-width="1.6" /><line x1="402.20" y1="501.80" x2="643.80" y2="501.80" stroke="#000" stroke-width="1.6" /><line x1="403.00" y1="501.80" x2="406.50" y2="501.80" stroke="#000" stroke-width="1.2" /><text x="398.50" y="506.30" font-size="14" text-anchor="end" fill="#000" >0</text><line x1="403.00" y1="477.65" x2="405.20" y2="477.65" stroke="#000" stroke-width="1.2" /><line x1="403.00" y1="453.50" x2="406.50" y2="453.50" stroke="#000" stroke-width="1.2" /><text x="398.50" y="458.00" font-size="14" text-anchor="end" fill="#000" >200</text><line x1="403.00" y1="429.35" x2="405.20" y2="429.35" stroke="#000" stroke-width="1.2" /><line x1="403.00" y1="405.20" x2="406.50" y2="405.20" stroke="#000" stroke-width="1.2" /><text x="398.50" y="409.70" font-size="14" text-anchor="end" fill="#000" >400</text><line x1="403.00" y1="381.05" x2="405.20" y2="381.05" stroke="#000" stroke-width="1.2" /><line x1="403.00" y1="356.90" x2="406.50" y2="356.90" stroke="#000" stroke-width="1.2" /><text x="398.50" y="361.40" font-size="14" text-anchor="end" fill="#000" >600</text><line x1="403.00" y1="332.75" x2="405.20" y2="332.75" stroke="#000" stroke-width="1.2" /><line x1="403.00" y1="308.60" x2="406.50" y2="308.60" stroke="#000" stroke-width="1.2" /><text x="398.50" y="313.10" font-size="14" text-anchor="end" fill="#000" >800</text><line x1="639.50" y1="501.80" x2="643.00" y2="501.80" stroke="#000" stroke-width="1.2" /><text x="647.50" y="506.80" font-size="14" text-anchor="start" fill="#000" >0</text><line x1="640.80" y1="482.48" x2="643.00" y2="482.48" stroke="#000" stroke-width="1.2" /><line x1="639.50" y1="463.16" x2="643.00" y2="463.16" stroke="#000" stroke-width="1.2" /><text x="647.50" y="468.16" font-size="14" text-anchor="start" fill="#000" >20</text><line x1="640.80" y1="443.84" x2="643.00" y2="443.84" stroke="#000" stroke-width="1.2" /><line x1="639.50" y1="424.52" x2="643.00" y2="424.52" stroke="#000" stroke-width="1.2" /><text x="647.50" y="429.52" font-size="14" text-anchor="start" fill="#000" >40</text><line x1="640.80" y1="405.20" x2="643.00" y2="405.20" stroke="#000" stroke-width="1.2" /><line x1="639.50" y1="385.88" x2="643.00" y2="385.88" stroke="#000" stroke-width="1.2" /><text x="647.50" y="390.88" font-size="14" text-anchor="start" fill="#000" >60</text><line x1="640.80" y1="366.56" x2="643.00" y2="366.56" stroke="#000" stroke-width="1.2" /><line x1="639.50" y1="347.24" x2="643.00" y2="347.24" stroke="#000" stroke-width="1.2" /><text x="647.50" y="352.24" font-size="14" text-anchor="start" fill="#000" >80</text><line x1="640.80" y1="327.92" x2="643.00" y2="327.92" stroke="#000" stroke-width="1.2" /><line x1="639.50" y1="308.60" x2="643.00" y2="308.60" stroke="#000" stroke-width="1.2" /><text x="647.50" y="313.60" font-size="14" text-anchor="start" fill="#000" >100</text><line x1="422.60" y1="498.30" x2="422.60" y2="501.80" stroke="#000" stroke-width="1.2" /><line x1="442.62" y1="499.60" x2="442.62" y2="501.80" stroke="#000" stroke-width="1.2" /><text x="422.60" y="518.50" font-size="14" text-anchor="middle" fill="#000" >-0.3</text><line x1="462.64" y1="498.30" x2="462.64" y2="501.80" stroke="#000" stroke-width="1.2" /><line x1="482.66" y1="499.60" x2="482.66" y2="501.80" stroke="#000" stroke-width="1.2" /><text x="462.64" y="518.50" font-size="14" text-anchor="middle" fill="#000" >-0.5</text><line x1="502.68" y1="498.30" x2="502.68" y2="501.80" stroke="#000" stroke-width="1.2" /><line x1="522.70" y1="499.60" x2="522.70" y2="501.80" stroke="#000" stroke-width="1.2" /><text x="502.68" y="518.50" font-size="14" text-anchor="middle" fill="#000" >-0.7</text><line x1="542.72" y1="498.30" x2="542.72" y2="501.80" stroke="#000" stroke-width="1.2" /><line x1="562.74" y1="499.60" x2="562.74" y2="501.80" stroke="#000" stroke-width="1.2" /><text x="542.72" y="518.50" font-size="14" text-anchor="middle" fill="#000" >-0.9</text><line x1="582.76" y1="498.30" x2="582.76" y2="501.80" stroke="#000" stroke-width="1.2" /><line x1="602.78" y1="499.60" x2="602.78" y2="501.80" stroke="#000" stroke-width="1.2" /><text x="582.76" y="518.50" font-size="14" text-anchor="middle" fill="#000" >-1.1</text><line x1="622.80" y1="498.30" x2="622.80" y2="501.80" stroke="#000" stroke-width="1.2" /><text x="622.80" y="518.50" font-size="14" text-anchor="middle" fill="#000" >-1.3</text><text x="523.20" y="537.00" font-size="14.8" text-anchor="middle" fill="#000" >Current density (A cm<tspan font-size="9.8" dy="-5.8">-2</tspan><tspan dy="5.8">)</tspan></text><text transform="translate(368.5,397.2) rotate(-90)" font-size="15.1" text-anchor="middle" fill="#000"><tspan font-style="italic">j</tspan><tspan font-size="10" dy="3">partial</tspan><tspan dy="-3"> (mA cm</tspan><tspan font-size="9.5" dy="-5.5">-2</tspan><tspan dy="5.5">)</tspan></text><text transform="translate(680.2,402.8) rotate(-90)" font-size="15.1" text-anchor="middle" fill="#000">Selectivity (%)</text><polyline points="422.60,446.74 462.64,416.07 502.68,391.92 542.72,367.04 582.76,343.62 622.80,320.19" fill="none" stroke="#1898d5" stroke-width="1.8"/><circle cx="422.60" cy="446.74" r="3.9" fill="#aee5fa" stroke="#1898d5" stroke-width="1.7" /><circle cx="462.64" cy="416.07" r="3.9" fill="#aee5fa" stroke="#1898d5" stroke-width="1.7" /><circle cx="502.68" cy="391.92" r="3.9" fill="#aee5fa" stroke="#1898d5" stroke-width="1.7" /><circle cx="542.72" cy="367.04" r="3.9" fill="#aee5fa" stroke="#1898d5" stroke-width="1.7" /><circle cx="582.76" cy="343.62" r="3.9" fill="#aee5fa" stroke="#1898d5" stroke-width="1.7" /><circle cx="622.80" cy="320.19" r="3.9" fill="#aee5fa" stroke="#1898d5" stroke-width="1.7" /><polyline points="422.60,315.56 462.64,315.56 502.68,315.17 542.72,314.59 582.76,314.40 622.80,313.82" fill="none" stroke="#f6575b" stroke-width="1.6"/><circle cx="422.60" cy="315.56" r="3.9" fill="#fdc7ca" stroke="#f6575b" stroke-width="1.7" /><circle cx="462.64" cy="315.56" r="3.9" fill="#fdc7ca" stroke="#f6575b" stroke-width="1.7" /><circle cx="502.68" cy="315.17" r="3.9" fill="#fdc7ca" stroke="#f6575b" stroke-width="1.7" /><circle cx="542.72" cy="314.59" r="3.9" fill="#fdc7ca" stroke="#f6575b" stroke-width="1.7" /><circle cx="582.76" cy="314.40" r="3.9" fill="#fdc7ca" stroke="#f6575b" stroke-width="1.7" /><circle cx="622.80" cy="313.82" r="3.9" fill="#fdc7ca" stroke="#f6575b" stroke-width="1.7" /><path d="M433,416.6 C431.5,412.5 427,410.5 419.5,410.4" fill="none" stroke="#1898d5" stroke-width="1.1"/><path d="M415.5,410.3 L420.2,408.2 L419.9,412.4 Z" fill="#1898d5"/><path d="M552.3,323.1 C553,327 558,328.8 565,328.8" fill="none" stroke="#f6575b" stroke-width="1.1"/><path d="M570.3,328.8 L564.3,326.9 L564.3,330.7 Z" fill="#f6575b"/><line x1="48.80" y1="564.20" x2="48.80" y2="797.60" stroke="#000" stroke-width="1.6" /><line x1="48.00" y1="564.20" x2="643.80" y2="564.20" stroke="#000" stroke-width="1.6" /><line x1="643.00" y1="564.20" x2="643.00" y2="680.60" stroke="#000" stroke-width="1.6" /><line x1="48.00" y1="680.60" x2="643.80" y2="680.60" stroke="#000" stroke-width="1.4" /><line x1="48.00" y1="797.60" x2="643.80" y2="797.60" stroke="#000" stroke-width="1.6" /><line x1="48.80" y1="575.00" x2="52.30" y2="575.00" stroke="#000" stroke-width="1.3" /><text x="45.50" y="580.40" font-size="15" text-anchor="end" fill="#000" >0</text><line x1="48.80" y1="601.50" x2="51.00" y2="601.50" stroke="#000" stroke-width="1.3" /><line x1="48.80" y1="628.00" x2="52.30" y2="628.00" stroke="#000" stroke-width="1.3" /><text x="45.50" y="633.40" font-size="15" text-anchor="end" fill="#000" >-1</text><line x1="48.80" y1="654.50" x2="51.00" y2="654.50" stroke="#000" stroke-width="1.3" /><line x1="48.80" y1="681.00" x2="52.30" y2="681.00" stroke="#000" stroke-width="1.3" /><text x="45.50" y="686.40" font-size="15" text-anchor="end" fill="#000" >-2</text><line x1="639.50" y1="681.00" x2="643.00" y2="681.00" stroke="#000" stroke-width="1.3" /><text x="647.30" y="686.40" font-size="15" text-anchor="start" fill="#000" >0</text><line x1="640.80" y1="652.39" x2="643.00" y2="652.39" stroke="#000" stroke-width="1.3" /><line x1="639.50" y1="623.77" x2="643.00" y2="623.77" stroke="#000" stroke-width="1.3" /><text x="647.30" y="629.17" font-size="15" text-anchor="start" fill="#000" >50</text><line x1="640.80" y1="595.16" x2="643.00" y2="595.16" stroke="#000" stroke-width="1.3" /><line x1="639.50" y1="566.55" x2="643.00" y2="566.55" stroke="#000" stroke-width="1.3" /><text x="647.30" y="571.95" font-size="15" text-anchor="start" fill="#000" >100</text><line x1="48.80" y1="797.60" x2="52.30" y2="797.60" stroke="#000" stroke-width="1.3" /><text x="45.50" y="803.00" font-size="15" text-anchor="end" fill="#000" >0.0</text><line x1="48.80" y1="776.45" x2="51.00" y2="776.45" stroke="#000" stroke-width="1.3" /><line x1="48.80" y1="755.30" x2="52.30" y2="755.30" stroke="#000" stroke-width="1.3" /><text x="45.50" y="760.70" font-size="15" text-anchor="end" fill="#000" >0.3</text><line x1="48.80" y1="734.15" x2="51.00" y2="734.15" stroke="#000" stroke-width="1.3" /><line x1="48.80" y1="713.00" x2="52.30" y2="713.00" stroke="#000" stroke-width="1.3" /><text x="45.50" y="718.40" font-size="15" text-anchor="end" fill="#000" >0.6</text><line x1="48.80" y1="691.85" x2="51.00" y2="691.85" stroke="#000" stroke-width="1.3" /><line x1="48.20" y1="794.10" x2="48.20" y2="797.60" stroke="#000" stroke-width="1.3" /><text x="48.20" y="814.00" font-size="14.5" text-anchor="middle" fill="#000" >0</text><line x1="189.85" y1="794.10" x2="189.85" y2="797.60" stroke="#000" stroke-width="1.3" /><text x="189.85" y="814.00" font-size="14.5" text-anchor="middle" fill="#000" >5</text><line x1="331.50" y1="794.10" x2="331.50" y2="797.60" stroke="#000" stroke-width="1.3" /><text x="331.50" y="814.00" font-size="14.5" text-anchor="middle" fill="#000" >10</text><line x1="473.15" y1="794.10" x2="473.15" y2="797.60" stroke="#000" stroke-width="1.3" /><text x="473.15" y="814.00" font-size="14.5" text-anchor="middle" fill="#000" >15</text><line x1="614.80" y1="794.10" x2="614.80" y2="797.60" stroke="#000" stroke-width="1.3" /><text x="614.80" y="814.00" font-size="14.5" text-anchor="middle" fill="#000" >20</text><line x1="119.02" y1="795.40" x2="119.02" y2="797.60" stroke="#000" stroke-width="1.3" /><line x1="260.68" y1="795.40" x2="260.68" y2="797.60" stroke="#000" stroke-width="1.3" /><line x1="402.32" y1="795.40" x2="402.32" y2="797.60" stroke="#000" stroke-width="1.3" /><line x1="543.98" y1="795.40" x2="543.98" y2="797.60" stroke="#000" stroke-width="1.3" /><text x="345.90" y="836.00" font-size="16.2" text-anchor="middle" fill="#000" >Runs</text><text transform="translate(21.8,622.4) rotate(-90)" font-size="17" text-anchor="middle" fill="#000">E (V vs. RHE)</text><text transform="translate(683.2,622.4) rotate(-90)" font-size="17" text-anchor="middle" fill="#000">Con./Sel. (%)</text><text transform="translate(14.2,739.2) rotate(-90)" font-size="17" text-anchor="middle" fill="#000">m<tspan font-size="11" dy="3.5">MBE</tspan><tspan dy="-3.5"> (g)</tspan></text><rect x="71.18" y="691.70" width="10.70" height="105.90" fill="#52b1e1" stroke="#5a5a5a" stroke-width="1.0" /><rect x="99.51" y="696.00" width="10.70" height="101.60" fill="#52b1e1" stroke="#5a5a5a" stroke-width="1.0" /><rect x="127.84" y="691.70" width="10.70" height="105.90" fill="#52b1e1" stroke="#5a5a5a" stroke-width="1.0" /><rect x="156.17" y="696.40" width="10.70" height="101.20" fill="#52b1e1" stroke="#5a5a5a" stroke-width="1.0" /><rect x="184.50" y="694.80" width="10.70" height="102.80" fill="#52b1e1" stroke="#5a5a5a" stroke-width="1.0" /><rect x="212.83" y="697.40" width="10.70" height="100.20" fill="#52b1e1" stroke="#5a5a5a" stroke-width="1.0" /><rect x="241.16" y="696.40" width="10.70" height="101.20" fill="#52b1e1" stroke="#5a5a5a" stroke-width="1.0" /><rect x="269.49" y="701.90" width="10.70" height="95.70" fill="#52b1e1" stroke="#5a5a5a" stroke-width="1.0" /><rect x="297.82" y="695.40" width="10.70" height="102.20" fill="#52b1e1" stroke="#5a5a5a" stroke-width="1.0" /><rect x="326.15" y="697.40" width="10.70" height="100.20" fill="#52b1e1" stroke="#5a5a5a" stroke-width="1.0" /><rect x="354.48" y="695.40" width="10.70" height="102.20" fill="#52b1e1" stroke="#5a5a5a" stroke-width="1.0" /><rect x="382.81" y="694.30" width="10.70" height="103.30" fill="#52b1e1" stroke="#5a5a5a" stroke-width="1.0" /><rect x="411.14" y="697.40" width="10.70" height="100.20" fill="#52b1e1" stroke="#5a5a5a" stroke-width="1.0" /><rect x="439.47" y="700.00" width="10.70" height="97.60" fill="#52b1e1" stroke="#5a5a5a" stroke-width="1.0" /><rect x="467.80" y="696.80" width="10.70" height="100.80" fill="#52b1e1" stroke="#5a5a5a" stroke-width="1.0" /><rect x="496.13" y="696.80" width="10.70" height="100.80" fill="#52b1e1" stroke="#5a5a5a" stroke-width="1.0" /><rect x="524.46" y="701.90" width="10.70" height="95.70" fill="#52b1e1" stroke="#5a5a5a" stroke-width="1.0" /><rect x="552.79" y="703.30" width="10.70" height="94.30" fill="#52b1e1" stroke="#5a5a5a" stroke-width="1.0" /><rect x="581.12" y="701.50" width="10.70" height="96.10" fill="#52b1e1" stroke="#5a5a5a" stroke-width="1.0" /><rect x="609.45" y="699.50" width="10.70" height="98.10" fill="#52b1e1" stroke="#5a5a5a" stroke-width="1.0" /><path d="M49.6,609.5 L49.8,615.8 L49.60,616.12 L50.41,616.91 L51.22,616.45 L52.04,617.05 L52.85,617.10 L53.66,615.63 L54.47,615.48 L55.28,617.61 L56.09,616.09 L56.91,616.01 L57.72,617.97 L58.53,616.58 L59.34,617.51 L60.15,616.55 L60.96,616.94 L61.78,615.65 L62.59,616.88 L63.40,617.45 L64.21,616.53 L65.02,617.06 L65.84,616.85 L66.65,615.23 L67.46,617.00 L68.27,616.53 L69.08,615.74 L69.89,615.00 L70.71,617.13 L71.52,616.06 L72.33,616.66 L73.14,617.03 L73.95,616.56 L74.76,617.05 L75.58,615.64 L76.39,616.65 L77.20,615.67 L78.01,616.90 L78.82,616.70 L79.64,614.62 L80.45,614.66 L81.26,614.82 L82.07,616.71 L82.88,615.28 L83.69,615.72 L84.51,614.81 L85.32,615.29 L86.13,614.92 L86.94,614.77 L87.75,615.31 L88.56,615.25 L89.38,616.02 L90.19,615.38 L91.00,615.95 L91.81,615.70 L92.62,615.98 L93.44,615.08 L94.25,613.69 L95.06,615.44 L95.87,615.64 L96.68,615.41 L97.49,614.47 L98.31,614.77 L99.12,613.39 L99.93,614.93 L100.74,614.18 L101.55,613.35 L102.36,612.70 L103.18,614.68 L103.99,614.95 L104.80,612.53 L104.80,625.50 L105.00,617.40 L104.80,618.18 L105.60,617.30 L106.41,617.02 L107.21,617.14 L108.01,617.58 L108.81,617.64 L109.62,616.77 L110.42,617.29 L111.22,616.66 L112.03,617.27 L112.83,616.81 L113.63,617.29 L114.43,617.31 L115.24,616.76 L116.04,617.16 L116.84,616.38 L117.65,616.05 L118.45,616.47 L119.25,615.80 L120.05,615.86 L120.86,615.96 L121.66,616.04 L122.46,615.47 L123.27,615.23 L124.07,615.92 L124.87,615.24 L125.67,615.75 L126.48,615.55 L127.28,614.88 L128.08,614.82 L128.89,614.73 L129.69,614.70 L130.49,614.49 L131.29,614.29 L132.10,614.19 L132.90,614.34 L132.90,617.21 L133.72,617.13 L134.53,617.40 L135.35,616.90 L136.17,616.94 L136.99,617.58 L137.80,617.09 L138.62,617.08 L139.44,616.50 L140.25,616.86 L141.07,616.97 L141.89,616.36 L142.71,616.89 L143.52,616.85 L144.34,616.21 L145.16,616.71 L145.97,616.48 L146.79,616.62 L147.61,616.21 L148.43,616.49 L149.24,616.43 L150.06,615.63 L150.88,615.58 L151.69,616.10 L152.51,616.29 L153.33,615.48 L154.15,615.59 L154.96,615.62 L155.78,615.24 L156.60,615.18 L157.41,615.01 L158.23,614.95 L159.05,615.06 L159.87,614.65 L160.68,614.60 L161.50,614.87 L161.50,617.03 L162.32,617.56 L163.14,617.71 L163.96,617.27 L164.78,617.16 L165.60,617.71 L166.42,617.11 L167.24,617.02 L168.06,617.22 L168.89,617.44 L169.71,616.79 L170.53,617.06 L171.35,617.01 L172.17,617.15 L172.99,616.92 L173.81,617.02 L174.63,616.67 L175.45,616.67 L176.27,616.71 L177.09,616.72 L177.91,616.47 L178.73,616.29 L179.55,616.16 L180.37,616.23 L181.19,615.99 L182.01,616.14 L182.84,616.05 L183.66,615.68 L184.48,615.61 L185.30,615.72 L186.12,615.54 L186.94,615.49 L187.76,615.18 L188.58,614.98 L189.40,614.92 L189.40,619.40 L189.60,617.60 L189.40,617.72 L190.22,617.50 L191.05,617.50 L191.87,617.49 L192.69,617.45 L193.51,617.38 L194.34,617.52 L195.16,617.14 L195.98,617.00 L196.81,617.29 L197.63,617.17 L198.45,617.11 L199.27,616.78 L200.10,616.87 L200.92,616.74 L201.74,616.33 L202.57,616.40 L203.39,616.30 L204.21,616.08 L205.03,615.87 L205.86,615.62 L206.68,615.48 L207.50,615.27 L208.33,615.03 L209.15,615.06 L209.97,614.75 L210.79,614.77 L211.62,614.27 L212.44,614.41 L213.26,614.12 L214.09,614.00 L214.91,613.77 L215.73,613.55 L216.55,613.20 L217.38,612.74 L218.20,612.80 L218.20,620.40 L218.40,617.60 L218.20,617.47 L219.01,617.51 L219.81,617.62 L220.62,617.51 L221.42,617.41 L222.23,617.55 L223.03,617.33 L223.84,617.13 L224.65,616.99 L225.45,617.12 L226.26,616.84 L227.06,616.83 L227.87,616.52 L228.67,616.31 L229.48,616.29 L230.29,616.23 L231.09,615.80 L231.90,615.87 L232.70,615.73 L233.51,615.49 L234.31,615.30 L235.12,614.76 L235.93,614.79 L236.73,614.66 L237.54,614.10 L238.34,613.95 L239.15,613.71 L239.95,613.56 L240.76,613.26 L241.57,613.01 L242.37,612.86 L243.18,612.28 L243.98,612.01 L244.79,611.75 L245.59,611.45 L246.40,611.13 L246.40,622.90 L246.60,614.30 L246.40,614.49 L247.22,615.09 L248.03,615.11 L248.85,615.55 L249.67,615.71 L250.49,615.92 L251.30,616.13 L252.12,616.43 L252.94,616.58 L253.75,616.65 L254.57,616.74 L255.39,616.95 L256.21,617.01 L257.02,617.22 L257.84,617.29 L258.66,617.15 L259.47,617.03 L260.29,617.07 L261.11,617.15 L261.93,617.24 L262.74,617.31 L263.56,617.15 L264.38,617.32 L265.19,617.25 L266.01,617.17 L266.83,617.15 L267.65,617.20 L268.46,617.28 L269.28,617.17 L270.10,617.28 L270.91,617.18 L271.73,617.10 L272.55,617.21 L273.37,617.28 L274.18,615.96 L275.00,614.67 L275.00,616.97 L275.81,617.14 L276.62,617.15 L277.44,616.89 L278.25,617.07 L279.06,616.99 L279.87,616.73 L280.68,616.75 L281.49,616.56 L282.31,616.77 L283.12,616.64 L283.93,616.66 L284.74,616.54 L285.55,616.40 L286.36,616.34 L287.18,616.18 L287.99,615.90 L288.80,615.99 L289.61,615.65 L290.42,615.59 L291.24,615.73 L292.05,615.32 L292.86,615.21 L293.67,615.09 L294.48,615.27 L295.29,614.86 L296.11,614.65 L296.92,614.84 L297.73,614.40 L298.54,614.54 L299.35,614.32 L300.16,614.23 L300.98,614.11 L301.79,613.80 L302.60,613.72 L302.60,617.21 L303.42,617.50 L304.24,617.37 L305.06,617.42 L305.88,617.13 L306.70,617.33 L307.52,617.34 L308.34,616.93 L309.16,616.96 L309.98,616.97 L310.80,616.98 L311.62,616.65 L312.44,616.53 L313.26,616.45 L314.08,616.48 L314.90,616.41 L315.72,616.14 L316.54,616.00 L317.36,615.87 L318.18,615.71 L319.00,615.59 L319.82,615.30 L320.64,615.31 L321.46,615.34 L322.28,614.94 L323.10,614.90 L323.92,614.49 L324.74,614.52 L325.56,614.35 L326.38,614.13 L327.20,613.87 L328.02,613.65 L328.84,613.51 L329.66,613.40 L330.48,612.88 L331.30,612.64 L331.30,617.50 L332.11,617.56 L332.91,617.38 L333.72,617.32 L334.52,617.40 L335.33,617.15 L336.13,617.13 L336.94,617.05 L337.75,617.15 L338.55,616.98 L339.36,616.88 L340.16,616.99 L340.97,617.01 L341.77,616.67 L342.58,616.74 L343.39,616.54 L344.19,616.62 L345.00,616.41 L345.80,616.18 L346.61,616.05 L347.41,615.86 L348.22,615.92 L349.03,615.76 L349.83,615.55 L350.64,615.50 L351.44,615.35 L352.25,615.40 L353.05,615.01 L353.86,615.20 L354.67,614.85 L355.47,614.75 L356.28,614.54 L357.08,614.53 L357.89,614.36 L358.69,614.09 L359.50,613.89 L359.50,613.99 L360.31,614.49 L361.12,614.65 L361.93,615.08 L362.75,615.45 L363.56,615.52 L364.37,615.69 L365.18,615.94 L365.99,616.37 L366.80,616.59 L367.61,616.93 L368.43,617.12 L369.24,617.09 L370.05,617.29 L370.86,617.53 L371.67,617.72 L372.48,618.13 L373.29,618.40 L374.11,618.62 L374.92,618.56 L375.73,619.01 L376.54,618.98 L377.35,619.22 L378.16,619.42 L378.97,618.89 L379.79,618.61 L380.60,618.63 L381.41,618.14 L382.22,617.89 L383.03,617.70 L383.84,617.46 L384.65,616.91 L385.47,616.77 L386.28,616.53 L387.09,616.27 L387.90,615.88 L387.90,617.03 L388.71,617.17 L389.52,616.93 L390.34,616.97 L391.15,616.77 L391.96,616.79 L392.77,616.90 L393.58,616.63 L394.39,616.89 L395.21,616.84 L396.02,616.45 L396.83,616.72 L397.64,616.42 L398.45,616.50 L399.26,616.42 L400.08,616.15 L400.89,616.21 L401.70,616.11 L402.51,616.07 L403.32,615.75 L404.14,615.84 L404.95,615.82 L405.76,615.59 L406.57,615.42 L407.38,615.13 L408.19,615.16 L409.01,614.98 L409.82,614.99 L410.63,614.84 L411.44,614.66 L412.25,614.37 L413.06,614.41 L413.88,614.26 L414.69,613.93 L415.50,614.06 L415.50,618.26 L416.31,618.04 L417.11,618.33 L417.92,617.98 L418.72,618.00 L419.53,618.10 L420.33,617.98 L421.14,617.89 L421.94,617.84 L422.75,617.67 L423.56,617.51 L424.36,617.35 L425.17,617.19 L425.97,617.33 L426.78,617.22 L427.58,617.00 L428.39,616.94 L429.19,616.64 L430.00,616.44 L430.81,616.33 L431.61,616.36 L432.42,615.86 L433.22,615.86 L434.03,615.58 L434.83,615.60 L435.64,615.24 L436.44,615.03 L437.25,614.85 L438.06,614.69 L438.86,614.57 L439.67,614.18 L440.47,614.15 L441.28,613.62 L442.08,613.45 L442.89,613.14 L443.69,612.90 L444.50,612.91 L444.50,618.09 L445.31,617.86 L446.12,617.85 L446.94,617.91 L447.75,618.00 L448.56,617.98 L449.37,617.91 L450.18,617.78 L450.99,617.54 L451.81,617.57 L452.62,617.42 L453.43,617.47 L454.24,617.40 L455.05,617.16 L455.86,617.08 L456.68,617.19 L457.49,616.78 L458.30,616.98 L459.11,616.90 L459.92,616.80 L460.74,616.45 L461.55,616.39 L462.36,616.27 L463.17,616.15 L463.98,616.14 L464.79,615.88 L465.61,615.57 L466.42,615.64 L467.23,615.33 L468.04,615.22 L468.85,615.10 L469.66,614.64 L470.48,614.77 L471.29,614.55 L472.10,614.30 L472.10,618.41 L472.92,618.38 L473.73,618.25 L474.55,618.36 L475.37,618.12 L476.19,618.26 L477.00,618.27 L477.82,618.14 L478.64,618.13 L479.45,618.22 L480.27,618.12 L481.09,617.74 L481.91,617.92 L482.72,617.76 L483.54,617.44 L484.36,617.47 L485.17,617.32 L485.99,617.15 L486.81,617.22 L487.63,617.26 L488.44,616.90 L489.26,617.00 L490.08,616.80 L490.89,616.44 L491.71,616.60 L492.53,616.35 L493.35,616.34 L494.16,616.11 L494.98,615.96 L495.80,615.65 L496.61,615.68 L497.43,615.56 L498.25,615.37 L499.07,615.03 L499.88,614.98 L500.70,614.69 L500.70,618.64 L501.51,618.61 L502.31,618.60 L503.12,618.63 L503.92,618.58 L504.73,618.67 L505.53,618.71 L506.34,618.59 L507.15,618.48 L507.95,618.51 L508.76,618.31 L509.56,618.30 L510.37,618.34 L511.17,618.11 L511.98,617.94 L512.79,618.13 L513.59,617.96 L514.40,617.72 L515.20,617.62 L516.01,617.57 L516.81,617.49 L517.62,617.22 L518.43,617.01 L519.23,616.97 L520.04,617.07 L520.84,616.68 L521.65,616.67 L522.45,616.43 L523.26,616.29 L524.07,616.13 L524.87,616.07 L525.68,615.82 L526.48,615.61 L527.29,615.48 L528.09,615.34 L528.90,615.30 L528.90,618.62 L529.72,618.60 L530.54,618.75 L531.36,618.71 L532.18,618.79 L533.00,618.49 L533.82,618.59 L534.64,618.53 L535.46,618.33 L536.28,618.64 L537.10,618.27 L537.92,618.15 L538.74,618.22 L539.56,618.02 L540.38,618.11 L541.20,617.91 L542.02,617.72 L542.84,617.60 L543.66,617.76 L544.48,617.47 L545.30,617.56 L546.12,617.32 L546.94,617.38 L547.76,617.01 L548.58,616.86 L549.40,616.73 L550.22,616.81 L551.04,616.60 L551.86,616.34 L552.68,616.10 L553.50,616.18 L554.32,616.14 L555.14,615.83 L555.96,615.43 L556.78,615.28 L557.60,615.14 L557.60,618.27 L558.40,618.21 L559.20,618.20 L560.00,618.42 L560.80,618.49 L561.60,618.18 L562.40,618.45 L563.20,618.22 L564.00,618.30 L564.80,618.30 L565.60,618.26 L566.40,617.84 L567.20,617.88 L568.00,617.94 L568.80,618.01 L569.60,617.60 L570.40,617.60 L571.20,617.75 L572.00,617.37 L572.80,617.40 L573.60,617.29 L574.40,617.34 L575.20,617.35 L576.00,616.95 L576.80,617.07 L577.60,616.97 L578.40,616.91 L579.20,616.68 L580.00,616.72 L580.80,616.38 L581.60,616.29 L582.40,616.10 L583.20,616.19 L584.00,615.95 L584.80,615.74 L585.60,615.57 L585.60,619.29 L586.42,619.24 L587.23,619.27 L588.05,619.12 L588.86,619.14 L589.68,618.99 L590.50,619.18 L591.31,618.88 L592.13,619.02 L592.95,619.10 L593.76,619.03 L594.58,618.76 L595.39,618.77 L596.21,618.97 L597.03,618.84 L597.84,618.88 L598.66,618.82 L599.48,618.59 L600.29,618.71 L601.11,618.58 L601.92,618.36 L602.74,618.31 L603.56,618.12 L604.37,618.18 L605.19,618.33 L606.01,617.91 L606.82,618.02 L607.64,617.76 L608.45,617.66 L609.27,617.81 L610.09,617.56 L610.90,617.39 L611.72,617.34 L612.54,617.45 L613.35,617.33 L614.17,617.00 L614.98,616.99 L615.80,617.19" fill="none" stroke="#f5585a" stroke-width="2.2" stroke-linejoin="round"/><path d="M75.5,628.5 C75.5,633 70,636 62,637.2" fill="none" stroke="#f5585a" stroke-width="1.2"/><path d="M58,637.8 L62.5,635.2 L63,639.4 Z" fill="#f5585a"/><defs><radialGradient id="gb" cx="0.4" cy="0.35" r="0.65"><stop offset="0" stop-color="#8fd3f0"/><stop offset="0.45" stop-color="#2ba3d9"/><stop offset="1" stop-color="#0f7fb4"/></radialGradient><radialGradient id="gp" cx="0.4" cy="0.35" r="0.65"><stop offset="0" stop-color="#f3d6ee"/><stop offset="0.45" stop-color="#d79ccf"/><stop offset="1" stop-color="#b776b0"/></radialGradient></defs><polyline points="76.53,569.70 104.86,570.30 133.19,568.90 161.52,569.30 189.85,572.00 218.18,569.30 246.51,569.30 274.84,569.00 303.17,567.90 331.50,568.90 359.83,569.30 388.16,567.90 416.49,568.70 444.82,569.70 473.15,574.40 501.48,574.00 529.81,574.80 558.14,579.80 586.47,576.00 614.80,582.60" fill="none" stroke="#1c9ad3" stroke-width="1.6"/><circle cx="76.53" cy="569.70" r="4.6" fill="url(#gb)" stroke="none" stroke-width="0" /><circle cx="104.86" cy="570.30" r="4.6" fill="url(#gb)" stroke="none" stroke-width="0" /><circle cx="133.19" cy="568.90" r="4.6" fill="url(#gb)" stroke="none" stroke-width="0" /><circle cx="161.52" cy="569.30" r="4.6" fill="url(#gb)" stroke="none" stroke-width="0" /><circle cx="189.85" cy="572.00" r="4.6" fill="url(#gb)" stroke="none" stroke-width="0" /><circle cx="218.18" cy="569.30" r="4.6" fill="url(#gb)" stroke="none" stroke-width="0" /><circle cx="246.51" cy="569.30" r="4.6" fill="url(#gb)" stroke="none" stroke-width="0" /><circle cx="274.84" cy="569.00" r="4.6" fill="url(#gb)" stroke="none" stroke-width="0" /><circle cx="303.17" cy="567.90" r="4.6" fill="url(#gb)" stroke="none" stroke-width="0" /><circle cx="331.50" cy="568.90" r="4.6" fill="url(#gb)" stroke="none" stroke-width="0" /><circle cx="359.83" cy="569.30" r="4.6" fill="url(#gb)" stroke="none" stroke-width="0" /><circle cx="388.16" cy="567.90" r="4.6" fill="url(#gb)" stroke="none" stroke-width="0" /><circle cx="416.49" cy="568.70" r="4.6" fill="url(#gb)" stroke="none" stroke-width="0" /><circle cx="444.82" cy="569.70" r="4.6" fill="url(#gb)" stroke="none" stroke-width="0" /><circle cx="473.15" cy="574.40" r="4.6" fill="url(#gb)" stroke="none" stroke-width="0" /><circle cx="501.48" cy="574.00" r="4.6" fill="url(#gb)" stroke="none" stroke-width="0" /><circle cx="529.81" cy="574.80" r="4.6" fill="url(#gb)" stroke="none" stroke-width="0" /><circle cx="558.14" cy="579.80" r="4.6" fill="url(#gb)" stroke="none" stroke-width="0" /><circle cx="586.47" cy="576.00" r="4.6" fill="url(#gb)" stroke="none" stroke-width="0" /><circle cx="614.80" cy="582.60" r="4.6" fill="url(#gb)" stroke="none" stroke-width="0" /><polyline points="76.53,574.00 104.86,574.80 133.19,575.80 161.52,576.50 189.85,573.60 218.18,575.40 246.51,574.40 274.84,576.00 303.17,573.00 331.50,575.00 359.83,573.00 388.16,573.40 416.49,575.80 444.82,576.00 473.15,570.30 501.48,571.30 529.81,570.30 558.14,571.40 586.47,571.00 614.80,569.70" fill="none" stroke="#d68fca" stroke-width="1.6"/><circle cx="76.53" cy="574.00" r="4.6" fill="url(#gp)" stroke="none" stroke-width="0" /><circle cx="104.86" cy="574.80" r="4.6" fill="url(#gp)" stroke="none" stroke-width="0" /><circle cx="133.19" cy="575.80" r="4.6" fill="url(#gp)" stroke="none" stroke-width="0" /><circle cx="161.52" cy="576.50" r="4.6" fill="url(#gp)" stroke="none" stroke-width="0" /><circle cx="189.85" cy="573.60" r="4.6" fill="url(#gp)" stroke="none" stroke-width="0" /><circle cx="218.18" cy="575.40" r="4.6" fill="url(#gp)" stroke="none" stroke-width="0" /><circle cx="246.51" cy="574.40" r="4.6" fill="url(#gp)" stroke="none" stroke-width="0" /><circle cx="274.84" cy="576.00" r="4.6" fill="url(#gp)" stroke="none" stroke-width="0" /><circle cx="303.17" cy="573.00" r="4.6" fill="url(#gp)" stroke="none" stroke-width="0" /><circle cx="331.50" cy="575.00" r="4.6" fill="url(#gp)" stroke="none" stroke-width="0" /><circle cx="359.83" cy="573.00" r="4.6" fill="url(#gp)" stroke="none" stroke-width="0" /><circle cx="388.16" cy="573.40" r="4.6" fill="url(#gp)" stroke="none" stroke-width="0" /><circle cx="416.49" cy="575.80" r="4.6" fill="url(#gp)" stroke="none" stroke-width="0" /><circle cx="444.82" cy="576.00" r="4.6" fill="url(#gp)" stroke="none" stroke-width="0" /><circle cx="473.15" cy="570.30" r="4.6" fill="url(#gp)" stroke="none" stroke-width="0" /><circle cx="501.48" cy="571.30" r="4.6" fill="url(#gp)" stroke="none" stroke-width="0" /><circle cx="529.81" cy="570.30" r="4.6" fill="url(#gp)" stroke="none" stroke-width="0" /><circle cx="558.14" cy="571.40" r="4.6" fill="url(#gp)" stroke="none" stroke-width="0" /><circle cx="586.47" cy="571.00" r="4.6" fill="url(#gp)" stroke="none" stroke-width="0" /><circle cx="614.80" cy="569.70" r="4.6" fill="url(#gp)" stroke="none" stroke-width="0" /><line x1="488.30" y1="599.20" x2="517.20" y2="599.20" stroke="#1c9ad3" stroke-width="1.6" /><circle cx="502.60" cy="599.20" r="4.6" fill="url(#gb)" stroke="none" stroke-width="0" /><text x="520.20" y="604.40" font-size="13.9" text-anchor="start" fill="#000" >Con.</text><line x1="562.10" y1="599.20" x2="591.70" y2="599.20" stroke="#d68fca" stroke-width="1.6" /><circle cx="576.30" cy="599.20" r="4.6" fill="url(#gp)" stroke="none" stroke-width="0" /><text x="594.40" y="604.40" font-size="13.9" text-anchor="start" fill="#000" >Sel.</text></svg></body></html>
